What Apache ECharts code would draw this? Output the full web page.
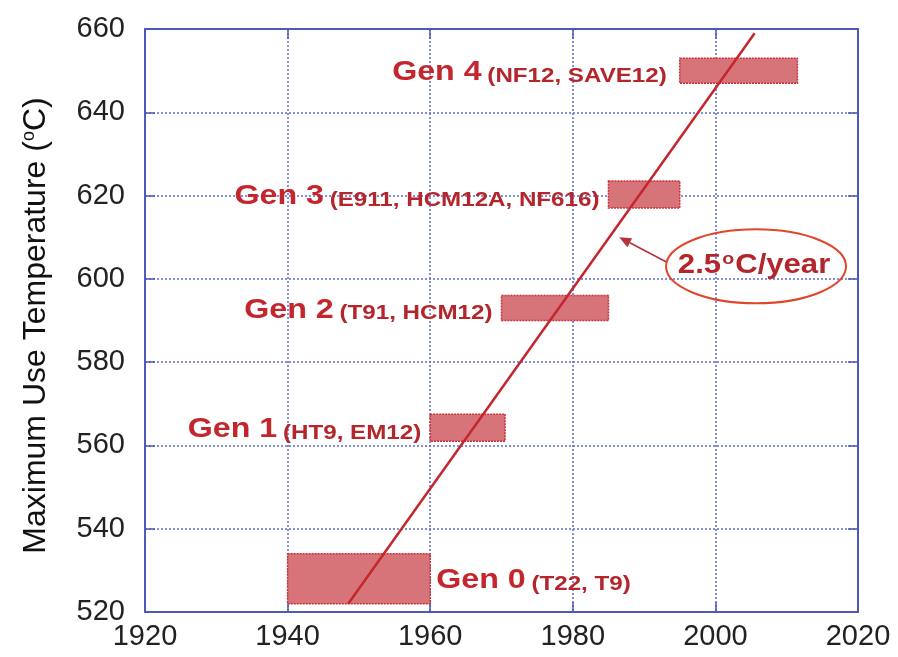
<!DOCTYPE html>
<html>
<head>
<meta charset="utf-8">
<script src="https://cdn.jsdelivr.net/npm/echarts@6/dist/echarts.min.js"></script>
<style>
  html, body { margin: 0; padding: 0; background: #fff; }
  #chart { width: 898px; height: 657px; }
</style>
</head>
<body>
<div id="chart"></div>
<script>
// Steel generations: service-temperature window and year of introduction
const genNames  = ['Gen 0', 'Gen 1', 'Gen 2', 'Gen 3', 'Gen 4'];
const genSteels = ['(T22, T9)', '(HT9, EM12)', '(T91, HCM12)', '(E911, HCM12A, NF616)', '(NF12, SAVE12)'];
const yearStart = [1940, 1960, 1970, 1985, 1995];
const yearEnd   = [1960, 1970.5, 1985, 1995, 2011.5];
const tempLow   = [522, 561, 590, 617, 647];
const tempHigh  = [534, 567.5, 596, 623.5, 653];

// Trend line through the generations
const trendYears = [1948.5, 2005.5];
const trendTemps = [522, 659];

// Rate callout: arrow tip on the trend line, arrow tail, ellipse centre
const calloutTip    = [1986.5, 610];
const calloutTail   = [1993.2, 604];
const calloutCenter = [2005.7, 603];
const calloutText   = '2.5{sup|o}C/year';

// Axis ranges
const xMin = 1920, xMax = 2020, xStep = 20;
const yMin = 520, yMax = 660, yStep = 20;

const RED = '#c4262e';
const DARK_RED = '#b3262c';
const AXIS_BLUE = '#4d5ab8';
const GRID_BLUE = '#5d6ad0';
const FONT = '"Liberation Sans", Arial, Helvetica, sans-serif';

const barData = genNames.map((n, i) => [yearStart[i], yearEnd[i], tempLow[i], tempHigh[i]]);

function renderGen(params, api) {
  const i = params.dataIndex;
  const tl = api.coord([api.value(0), api.value(3)]);
  const br = api.coord([api.value(1), api.value(2)]);
  const midY = (tl[1] + br[1]) / 2;
  const onLeft = i > 0;
  const gap = i === 4 ? 13 : 9;
  return {
    type: 'group',
    children: [
      {
        type: 'rect',
        shape: { x: tl[0], y: tl[1], width: br[0] - tl[0], height: br[1] - tl[1] },
        style: { fill: '#d7747a', stroke: '#c83038', lineWidth: 1.5, lineDash: [2, 1] }
      },
      {
        type: 'text',
        x: onLeft ? tl[0] - gap : br[0] + 6,
        y: midY + 1,
        scaleX: 1.15,
        style: {
          text: '{g|' + genNames[i] + '}{s|' + genSteels[i] + '}',
          align: onLeft ? 'right' : 'left',
          verticalAlign: 'middle',
          rich: {
            g: { fontSize: 28, fontWeight: 'bold', fontFamily: FONT, fill: RED, verticalAlign: 'bottom', lineHeight: 30 },
            s: { fontSize: 21, fontWeight: 'bold', fontFamily: FONT, fill: DARK_RED, verticalAlign: 'bottom', lineHeight: 16, padding: [0, 0, 0, 5] }
          }
        }
      }
    ]
  };
}

function renderCallout(params, api) {
  const tip = api.coord(calloutTip);
  const tail = api.coord(calloutTail);
  const c = api.coord(calloutCenter);
  const ang = Math.atan2(tip[1] - tail[1], tip[0] - tail[0]);
  const hl = 12, hw = 5;
  const bx = tip[0] - hl * Math.cos(ang), by = tip[1] - hl * Math.sin(ang);
  const px = -Math.sin(ang), py = Math.cos(ang);
  return {
    type: 'group',
    children: [
      {
        type: 'line',
        shape: { x1: tail[0], y1: tail[1], x2: bx, y2: by },
        style: { stroke: '#b4333a', lineWidth: 1.6 }
      },
      {
        type: 'polygon',
        shape: { points: [[tip[0], tip[1]], [bx + px * hw, by + py * hw], [bx - px * hw, by - py * hw]] },
        style: { fill: '#b4333a' }
      },
      {
        type: 'ellipse',
        shape: { cx: c[0], cy: c[1], rx: 90, ry: 37 },
        style: { fill: 'rgba(255,255,255,0)', stroke: '#e0462c', lineWidth: 2 }
      },
      {
        type: 'text',
        x: c[0] - 2,
        y: c[1] - 1,
        scaleX: 1.15,
        style: {
          text: calloutText,
          align: 'center',
          verticalAlign: 'middle',
          rich: {
            sup: { fontSize: 17, fontWeight: 'bold', fontFamily: FONT, fill: DARK_RED, verticalAlign: 'top', lineHeight: 30, padding: [0, 1, 14, 1] }
          },
          fontSize: 27, fontWeight: 'bold', fontFamily: FONT, fill: DARK_RED
        }
      }
    ]
  };
}

const chart = echarts.init(document.getElementById('chart'), null, { renderer: 'canvas' });

const axisLabelStyle = { fontSize: 29, color: '#222', fontFamily: FONT, formatter: v => String(v) };

chart.setOption({
  animation: false,
  backgroundColor: '#fff',
  grid: { left: 145, right: 40, top: 29, bottom: 45, containLabel: false, outerBoundsMode: 'none' },
  xAxis: [
    {
      type: 'value', min: xMin, max: xMax, interval: xStep, position: 'bottom',
      axisLine: { show: true, onZero: false, lineStyle: { color: AXIS_BLUE, width: 2 } },
      axisTick: { show: true, inside: true, length: 10, lineStyle: { color: AXIS_BLUE, width: 1.5 } },
      axisLabel: Object.assign({ margin: 10 }, axisLabelStyle),
      splitLine: { show: true, lineStyle: { color: GRID_BLUE, width: 1.5, type: [2, 2] } }
    },
    {
      type: 'value', min: xMin, max: xMax, interval: xStep, position: 'top',
      axisLine: { show: true, onZero: false, lineStyle: { color: AXIS_BLUE, width: 2 } },
      axisTick: { show: true, inside: true, length: 10, lineStyle: { color: AXIS_BLUE, width: 1.5 } },
      axisLabel: { show: false },
      splitLine: { show: false }
    }
  ],
  yAxis: [
    {
      type: 'value', min: yMin, max: yMax, interval: yStep, position: 'left',
      name: 'Maximum Use Temperature ({sup|o}C)',
      nameLocation: 'middle', nameRotate: 90, nameGap: 93,
      nameTextStyle: {
        fontSize: 32, color: '#111', fontFamily: FONT, padding: [0, 10, 0, 0],
        rich: { sup: { fontSize: 18, color: '#111', fontFamily: FONT, verticalAlign: 'top', padding: [0, 0, 12, 0] } }
      },
      axisLine: { show: true, onZero: false, lineStyle: { color: AXIS_BLUE, width: 2 } },
      axisTick: { show: true, inside: true, length: 10, lineStyle: { color: AXIS_BLUE, width: 1.5 } },
      axisLabel: Object.assign({ margin: 20 }, axisLabelStyle),
      splitLine: { show: true, lineStyle: { color: GRID_BLUE, width: 1.5, type: [2, 2] } }
    },
    {
      type: 'value', min: yMin, max: yMax, interval: yStep, position: 'right',
      axisLine: { show: true, onZero: false, lineStyle: { color: AXIS_BLUE, width: 2 } },
      axisTick: { show: true, inside: true, length: 10, lineStyle: { color: AXIS_BLUE, width: 1.5 } },
      axisLabel: { show: false },
      splitLine: { show: false }
    }
  ],
  series: [
    {
      name: 'generations',
      type: 'custom',
      xAxisIndex: 0, yAxisIndex: 0,
      renderItem: renderGen,
      data: barData,
      clip: false,
      z: 3
    },
    {
      name: 'trend',
      type: 'line',
      xAxisIndex: 0, yAxisIndex: 0,
      data: trendYears.map((y, i) => [y, trendTemps[i]]),
      showSymbol: false,
      symbol: 'none',
      lineStyle: { color: RED, width: 2.5 },
      z: 4
    },
    {
      name: 'callout',
      type: 'custom',
      xAxisIndex: 0, yAxisIndex: 0,
      renderItem: renderCallout,
      data: [[calloutCenter[0], calloutCenter[1]]],
      clip: false,
      z: 5
    }
  ]
});
</script>
</body>
</html>
